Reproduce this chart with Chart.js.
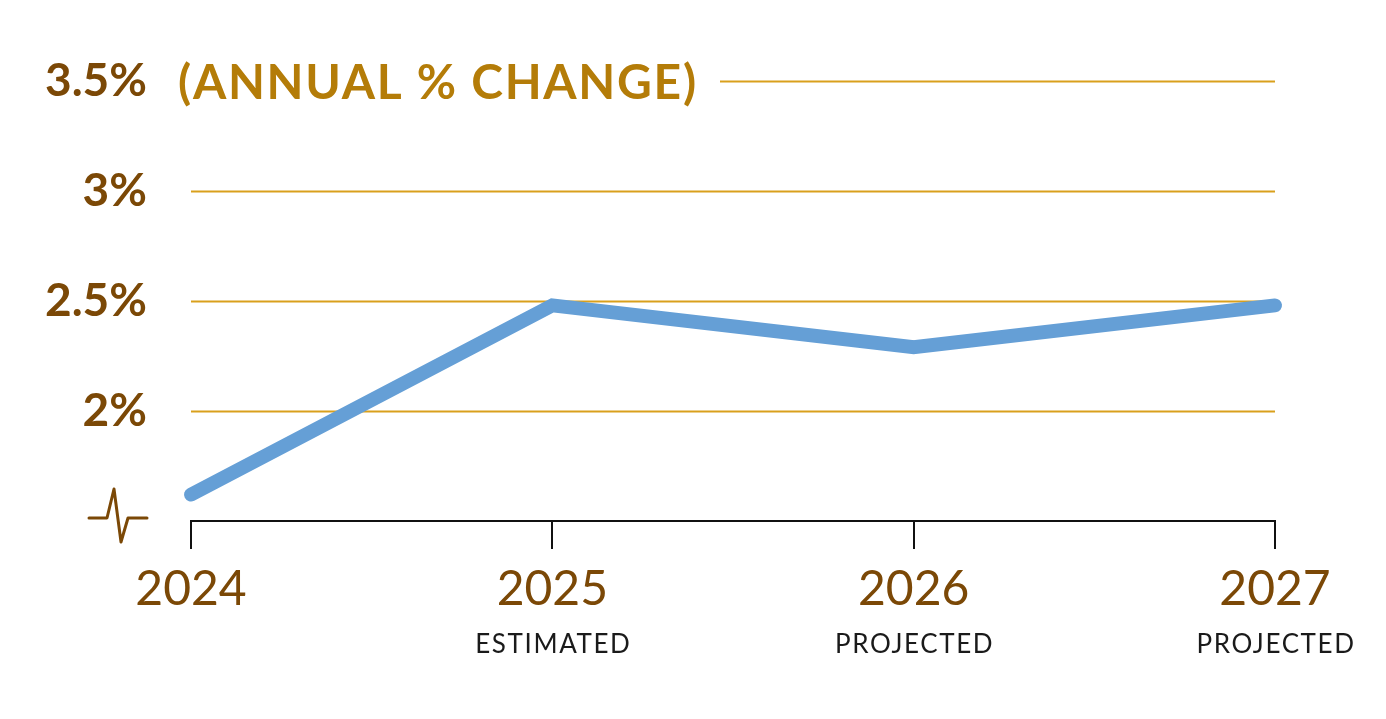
<!DOCTYPE html>
<html>
<head>
<meta charset="utf-8">
<script src="https://cdn.jsdelivr.net/npm/chart.js@4"></script>
<style>
  html, body { margin: 0; padding: 0; background: #fff; }
  #wrap { width: 1386px; height: 719px; position: relative; }
</style>
</head>
<body>
<div id="wrap"><canvas id="growthChart"></canvas></div>
<script>
// Chart data
const years = ["2024", "2025", "2026", "2027"];
const subLabels = ["", "ESTIMATED", "PROJECTED", "PROJECTED"];
const growth = [1.62, 2.48, 2.29, 2.48];
const yTicks = [1.5, 2, 2.5, 3, 3.5];
const titleText = "(ANNUAL % CHANGE)";

const BROWN = "#7b4806";
const GOLD = "#b47c08";
const GRID = "#d9a01c";
const LINE = "#659fd6";

// Draws gridlines, the title, the axis break and the sub labels
const decorations = {
  id: "decorations",
  beforeDatasetsDraw(chart) {
    const ctx = chart.ctx;
    const area = chart.chartArea;
    const y = chart.scales.y;
    ctx.save();
    ctx.strokeStyle = GRID;
    ctx.lineWidth = 2;
    yTicks.forEach(function (v) {
      if (v === yTicks[0]) return;
      const py = Math.round(y.getPixelForValue(v)) + 0.5;
      // the top line leaves room for the title
      const startX = v === yTicks[yTicks.length - 1] ? 720 : area.left;
      ctx.beginPath();
      ctx.moveTo(startX, py);
      ctx.lineTo(area.right, py);
      ctx.stroke();
    });
    ctx.restore();
  },
  afterDraw(chart) {
    const ctx = chart.ctx;
    const area = chart.chartArea;
    const x = chart.scales.x;
    const y = chart.scales.y;
    ctx.save();

    // title next to the top tick
    ctx.font = "bold 48px Lato";
    ctx.fillStyle = GOLD;
    ctx.textAlign = "left";
    ctx.textBaseline = "middle";
    ctx.letterSpacing = "1.7px";
    ctx.fillText(titleText, 178, y.getPixelForValue(3.5) + 3);
    ctx.letterSpacing = "0px";

    // axis break symbol
    const by = y.getPixelForValue(1.5) - 3;
    const bx = area.left - 44;
    ctx.strokeStyle = BROWN;
    ctx.lineWidth = 3;
    ctx.lineJoin = "round";
    ctx.lineCap = "round";
    ctx.beginPath();
    ctx.moveTo(bx - 58, by);
    ctx.lineTo(bx - 40, by);
    ctx.lineTo(bx - 33, by - 29);
    ctx.lineTo(bx - 26, by + 24);
    ctx.lineTo(bx - 19, by);
    ctx.lineTo(bx, by);
    ctx.stroke();

    // sub labels under the years
    ctx.font = "26px Lato";
    ctx.fillStyle = "#1a1a1a";
    ctx.textAlign = "center";
    ctx.textBaseline = "alphabetic";
    ctx.letterSpacing = "1.6px";
    subLabels.forEach(function (s, i) {
      if (!s) return;
      ctx.fillText(s, x.getPixelForValue(i) + 1, 653);
    });
    ctx.restore();
  },
};

const ctx = document.getElementById("growthChart").getContext("2d");
const growthChart = new Chart(ctx, {
  type: "line",
  data: {
    labels: years,
    datasets: [
      {
        data: growth,
        borderColor: LINE,
        borderWidth: 14,
        borderCapStyle: "round",
        borderJoinStyle: "miter",
        pointRadius: 0,
        tension: 0,
        fill: false,
        clip: false,
      },
    ],
  },
  options: {
    responsive: true,
    maintainAspectRatio: false,
    devicePixelRatio: 1,
    animation: false,
    layout: { padding: { top: 81, right: 111, bottom: 0, left: 0 } },
    plugins: { legend: { display: false }, tooltip: { enabled: false } },
    scales: {
      x: {
        type: "category",
        offset: false,
        afterFit: function (scale) { scale.height = 198; },
        grid: {
          display: true,
          drawOnChartArea: false,
          drawTicks: true,
          tickLength: 28,
          color: "#111",
          lineWidth: 2,
        },
        border: { display: true, color: "#111", width: 2 },
        ticks: {
          color: BROWN,
          font: { family: "Lato", size: 48 },
          padding: 12,
          maxRotation: 0,
        },
      },
      y: {
        min: 1.5,
        max: 3.5,
        afterFit: function (scale) { scale.width = 191; },
        afterBuildTicks: function (scale) {
          scale.ticks = yTicks.map(function (v) { return { value: v }; });
        },
        grid: { display: false, drawTicks: false },
        border: { display: false },
        ticks: {
          color: BROWN,
          font: { family: "Lato", size: 46, weight: "bold" },
          padding: 44,
          callback: function (v) { return v === 1.5 ? "" : v + "%"; },
        },
      },
    },
  },
  plugins: [decorations],
});
</script>
</body>
</html>
